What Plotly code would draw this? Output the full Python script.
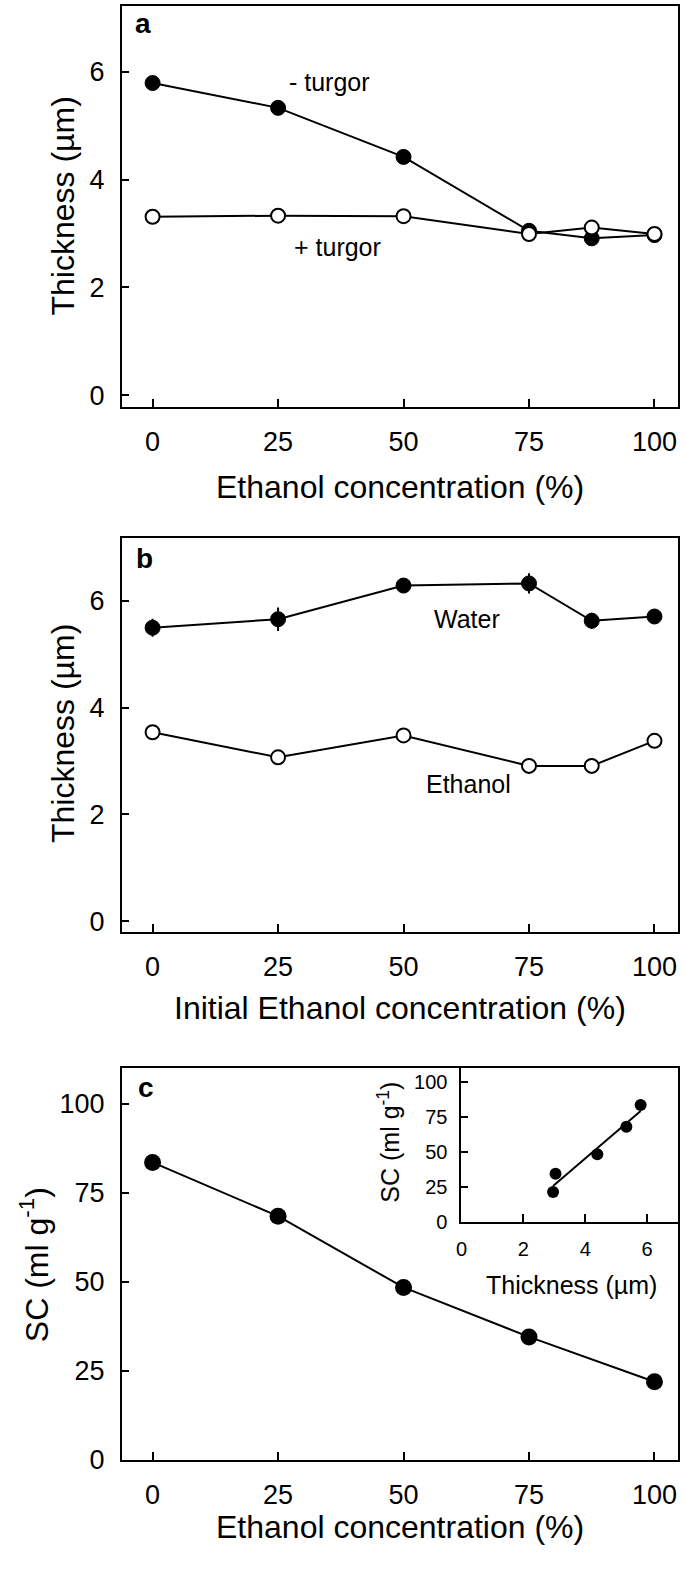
import numpy as np
import plotly.graph_objects as go

# ---------------- data ----------------
conc_a = [0, 25, 50, 75, 87.5, 100]
minus_turgor = [5.79, 5.33, 4.42, 3.05, 2.91, 2.97]
plus_turgor = [3.31, 3.33, 3.32, 2.99, 3.11, 2.99]

conc_b = [0, 25, 50, 75, 87.5, 100]
water = [5.50, 5.66, 6.29, 6.33, 5.63, 5.71]
water_err = [0.17, 0.22, 0.12, 0.19, 0.15, 0.13]
ethanol = [3.54, 3.07, 3.48, 2.91, 2.91, 3.38]
ethanol_err = [0.12, 0.05, 0.05, 0.05, 0.05, 0.05]

conc_c = [0, 25, 50, 75, 100]
sc = [83.5, 68.4, 48.4, 34.5, 21.9]

inset_thick = [5.79, 5.33, 4.39, 3.04, 2.96]
inset_sc = [83.6, 68.2, 48.6, 34.6, 21.6]

x_ticks = [0, 25, 50, 75, 100]
thick_ticks = [0, 2, 4, 6]
sc_ticks = [0, 25, 50, 75, 100]
inset_x_ticks = [0, 2, 4, 6]

FONT = "Liberation Sans, Arial, sans-serif"
W, H = 685, 1583

def px(x):
    return x / W

def py(y):
    return 1 - y / H

fig = go.Figure()

filled = dict(symbol="circle", size=15, color="black", line=dict(color="black", width=1))
opened = dict(symbol="circle", size=14, color="white", line=dict(color="black", width=2))
line = dict(color="black", width=2)

# panel a
fig.add_trace(go.Scatter(x=conc_a, y=minus_turgor, mode="lines+markers", marker=filled, line=line,
                         xaxis="x", yaxis="y", showlegend=False))
fig.add_trace(go.Scatter(x=conc_a, y=plus_turgor, mode="lines+markers", marker=opened, line=line,
                         xaxis="x", yaxis="y", showlegend=False))
# panel b
fig.add_trace(go.Scatter(x=conc_b, y=water, mode="lines+markers", marker=filled, line=line,
                         error_y=dict(type="data", array=water_err, width=0, thickness=2, color="black"),
                         xaxis="x2", yaxis="y2", showlegend=False))
fig.add_trace(go.Scatter(x=conc_b, y=ethanol, mode="lines+markers", marker=opened, line=line,
                         error_y=dict(type="data", array=ethanol_err, width=0, thickness=2, color="black"),
                         xaxis="x2", yaxis="y2", showlegend=False))
# panel c
fig.add_trace(go.Scatter(x=conc_c, y=sc, mode="lines+markers",
                         marker=dict(symbol="circle", size=17, color="black"), line=line,
                         xaxis="x3", yaxis="y3", showlegend=False))
# inset
slope, intercept = np.polyfit(inset_thick, inset_sc, 1)
xfit = [min(inset_thick), max(inset_thick)]
yfit = [slope * v + intercept for v in xfit]
fig.add_trace(go.Scatter(x=xfit, y=yfit, mode="lines", line=line,
                         xaxis="x4", yaxis="y4", showlegend=False))
fig.add_trace(go.Scatter(x=inset_thick, y=inset_sc, mode="markers",
                         marker=dict(symbol="circle", size=12, color="black"),
                         xaxis="x4", yaxis="y4", showlegend=False))

def xax(domain, anchor, tickvals, rng, size=27, standoff=10):
    return dict(domain=domain, anchor=anchor, range=rng, tickvals=tickvals,
                ticktext=[str(v) for v in tickvals],
                showline=True, linecolor="black", linewidth=2, mirror=True,
                ticks="inside", ticklen=8, tickwidth=2, tickcolor="black",
                showgrid=False, zeroline=False, ticklabelstandoff=standoff,
                tickfont=dict(family=FONT, size=size, color="black"))

def yax(domain, anchor, tickvals, rng, size=27, standoff=10):
    return dict(domain=domain, anchor=anchor, range=rng, tickvals=tickvals,
                ticktext=[str(v) for v in tickvals],
                showline=True, linecolor="black", linewidth=2, mirror=True,
                ticks="inside", ticklen=7, tickwidth=2, tickcolor="black",
                showgrid=False, zeroline=False, ticklabelstandoff=standoff,
                tickfont=dict(family=FONT, size=size, color="black"))

xdom = [px(117), px(678)]
xr = [-6.1, 104.7]
fig.update_layout(
    xaxis=xax(xdom, "y", x_ticks, xr),
    yaxis=yax([py(410.7), py(6)], "x", thick_ticks, [-0.215, 7.22]),
    xaxis2=xax(xdom, "y2", x_ticks, xr),
    yaxis2=yax([py(940.7), py(542.7)], "x2", thick_ticks, [-0.2, 7.19]),
    xaxis3=xax(xdom, "y3", x_ticks, xr),
    yaxis3=yax([py(1473.7), py(1078.3)], "x3", sc_ticks, [0, 110]),
    xaxis4=xax([px(459.5), px(678)], "y4", inset_x_ticks, [0, 7], size=20, standoff=8),
    yaxis4=yax([py(1234), py(1078.3)], "x4", sc_ticks, [0, 110], size=20, standoff=8),
)

ann = []
def text(t, x, y, size, xref="paper", yref="paper", angle=0, bold=False):
    if bold:
        t = "<b>" + t + "</b>"
    ann.append(dict(text=t, x=x, y=y, xref=xref, yref=yref, showarrow=False,
                    xanchor="center", yanchor="middle", textangle=angle,
                    font=dict(family=FONT, size=size, color="black")))

cx = px((117 + 678) / 2)
text("Ethanol concentration (%)", cx, py(492), 32)
text("Initial Ethanol concentration (%)", cx, py(1018), 32)
text("Ethanol concentration (%)", cx, py(1542), 32)
text("Thickness (µm)", px(58), py(208), 32, angle=-90)
text("Thickness (µm)", px(58), py(740.5), 32, angle=-90)
text("SC (ml g<sup>-1</sup>)", px(28.5), py(1277), 32, angle=-90)
text("SC (ml g<sup>-1</sup>)", px(386), py(1153), 25, angle=-90)
text("Thickness (µm)", px(571), py(1297), 25)

text("a", px(138), py(24), 28, bold=True)
text("b", px(139.5), py(564), 28, bold=True)
text("c", px(141), py(1098), 28, bold=True)

text("- turgor", 35.3, 5.81, 25, xref="x", yref="y")
text("+ turgor", 36.9, 2.74, 25, xref="x", yref="y")
text("Water", 62.7, 5.67, 25, xref="x2", yref="y2")
text("Ethanol", 63.0, 2.57, 25, xref="x2", yref="y2")

fig.update_layout(annotations=ann, width=W, height=H, margin=dict(l=0, r=0, t=0, b=0),
                  paper_bgcolor="white", plot_bgcolor="white",
                  font=dict(family=FONT, color="black"))

fig.write_html("out.html", config={"displayModeBar": False},
               post_script="document.body.style.margin='0';document.body.style.overflow='hidden';")
